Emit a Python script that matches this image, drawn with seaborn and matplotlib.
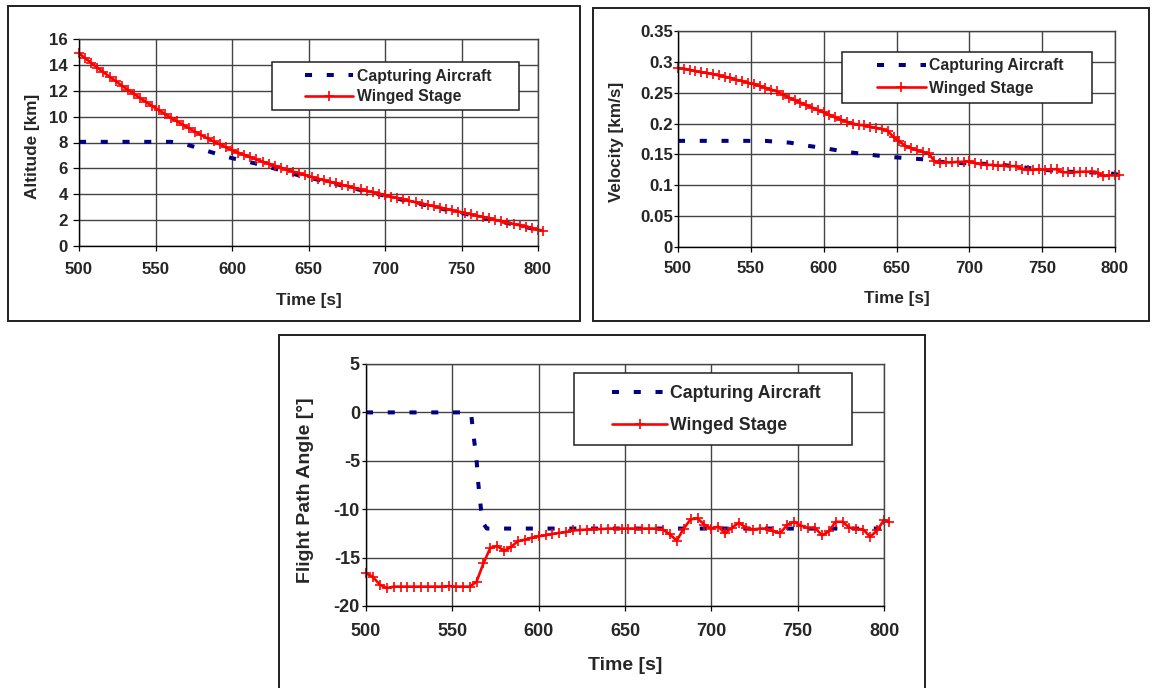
import matplotlib
matplotlib.use("Agg")
import matplotlib.pyplot as plt
from matplotlib.patches import Rectangle
from matplotlib.ticker import FuncFormatter
import seaborn as sns

# ---------------- data ----------------
time_ws = [500, 504, 508, 512, 516, 520, 524, 528, 532, 536, 540, 544, 548, 552, 556, 560,
           564, 568, 572, 576, 580, 584, 588, 592, 596, 600, 604, 608, 612, 616, 620, 624,
           628, 632, 636, 640, 644, 648, 652, 656, 660, 664, 668, 672, 676, 680, 684, 688,
           692, 696, 700, 704, 708, 712, 716, 720, 724, 728, 732, 736, 740, 744, 748, 752,
           756, 760, 764, 768, 772, 776, 780, 784, 788, 792, 796, 800, 803]

alt_ws = [14.90, 14.52, 14.15, 13.79, 13.43, 13.08, 12.74, 12.40, 12.07, 11.75, 11.43, 11.12,
          10.81, 10.51, 10.21, 9.92, 9.64, 9.36, 9.09, 8.83, 8.57, 8.32, 8.08, 7.85, 7.63, 7.41,
          7.22, 7.04, 6.86, 6.69, 6.52, 6.36, 6.20, 6.05, 5.90, 5.75, 5.61, 5.47, 5.34, 5.21,
          5.08, 4.96, 4.84, 4.72, 4.60, 4.49, 4.37, 4.26, 4.15, 4.04, 3.93, 3.82, 3.71, 3.60,
          3.49, 3.38, 3.28, 3.17, 3.07, 2.97, 2.86, 2.76, 2.66, 2.56, 2.45, 2.34, 2.24, 2.13,
          2.02, 1.92, 1.81, 1.70, 1.60, 1.49, 1.38, 1.27, 1.19]

vel_ws = [0.290, 0.289, 0.287, 0.285, 0.283, 0.282, 0.280, 0.278, 0.276, 0.274, 0.271, 0.269,
          0.266, 0.264, 0.261, 0.258, 0.255, 0.252, 0.247, 0.242, 0.238, 0.234, 0.230, 0.226,
          0.222, 0.218, 0.214, 0.210, 0.206, 0.203, 0.200, 0.198, 0.197, 0.195, 0.193, 0.191,
          0.188, 0.178, 0.171, 0.164, 0.160, 0.157, 0.154, 0.152, 0.139, 0.136, 0.137, 0.137,
          0.138, 0.138, 0.139, 0.136, 0.134, 0.133, 0.133, 0.132, 0.132, 0.131, 0.131, 0.127,
          0.125, 0.125, 0.126, 0.125, 0.126, 0.126, 0.121, 0.121, 0.121, 0.122, 0.122, 0.122,
          0.120, 0.115, 0.116, 0.116, 0.116]

fpa_ws = [-16.6, -17.0, -17.8, -18.15, -18.0, -18.0, -18.0, -18.0, -18.0, -18.0, -18.0, -18.0,
          -17.95, -18.0, -18.0, -18.0, -17.5, -15.6, -14.0, -13.8, -14.3, -13.9, -13.3, -13.15,
          -12.95, -12.8, -12.7, -12.55, -12.45, -12.35, -12.2, -12.15, -12.1, -12.05, -12.05,
          -12.0, -12.0, -12.0, -12.0, -12.0, -12.0, -12.0, -12.0, -12.1, -12.6, -13.25, -12.0,
          -11.05, -10.95, -11.6, -12.0, -11.8, -12.5, -11.9, -11.4, -11.9, -12.1, -12.0, -12.0,
          -12.3, -12.45, -11.6, -11.3, -11.7, -11.95, -11.9, -12.7, -12.3, -11.3, -11.3, -11.9,
          -12.0, -12.1, -12.85, -12.2, -11.1, -11.35]

time_ca_alt = [500, 560, 566, 573, 587, 600, 615, 629, 643, 660, 680, 700, 720, 740, 760, 780, 800, 803]
alt_ca = [8.05, 8.05, 7.95, 7.75, 7.23, 6.79, 6.39, 5.95, 5.48, 5.02, 4.44, 3.88, 3.33, 2.80,
          2.30, 1.77, 1.25, 1.17]

time_ca_vel = [500, 560, 565, 577, 586, 601, 616, 630, 645, 660, 675, 680, 694, 708, 723, 737,
               752, 767, 781, 795, 803]
vel_ca = [0.172, 0.172, 0.171, 0.169, 0.165, 0.160, 0.154, 0.150, 0.146, 0.1435, 0.141, 0.138,
          0.136, 0.135, 0.133, 0.129, 0.125, 0.122, 0.121, 0.120, 0.117]

time_ca_fpa = [500, 560, 561, 562, 564, 565, 566.6, 568, 570, 803]
fpa_ca = [0, 0, -0.3, -2.0, -4.8, -7.3, -10.0, -11.5, -12.0, -12.0]

x_ticks = [500, 550, 600, 650, 700, 750, 800]
alt_ticks = [0, 2, 4, 6, 8, 10, 12, 14, 16]
vel_ticks = [0, 0.05, 0.1, 0.15, 0.2, 0.25, 0.3, 0.35]
fpa_ticks = [-20, -15, -10, -5, 0, 5]

label_ca = "Capturing Aircraft"
label_ws = "Winged Stage"

# ---------------- style ----------------
sns.set_theme(style="white")
plt.rcParams["font.family"] = ["Liberation Sans", "DejaVu Sans"]
plt.rcParams["font.weight"] = "bold"
plt.rcParams["axes.labelweight"] = "bold"
plt.rcParams["axes.unicode_minus"] = False

W, H = 1152, 688
fig = plt.figure(figsize=(W / 100, H / 100), dpi=100)
fig.patch.set_facecolor("white")

NAVY = "#000080"
RED = "#ff0000"
GRID = "#444444"


def frac_axes(l, t, r, b):
    return [l / W, 1 - b / H, (r - l) / W, (b - t) / H]


def px_rect(x0, y0, x1, y1, lw=1.4, face="none", z=1):
    return Rectangle((x0 / W, 1 - y1 / H), (x1 - x0) / W, (y1 - y0) / H,
                     transform=fig.transFigure, facecolor=face, edgecolor="#202020",
                     lw=lw, zorder=z)


# panel borders
fig.add_artist(px_rect(8, 6, 580, 321))
fig.add_artist(px_rect(593, 8, 1149, 321))
fig.add_artist(px_rect(279, 335, 925, 720))


def style_axes(ax, yticks, ylim, fs_tick, ylen, ypad, xpad, ylabel, fs_lab, ylab_xy, xlab_y):
    ax.set_xlim(500, 800)
    ax.set_ylim(*ylim)
    ax.set_xticks(x_ticks)
    ax.set_yticks(yticks)
    ax.yaxis.set_major_formatter(FuncFormatter(lambda v, p: f"{v:g}"))
    ax.grid(True, color=GRID, lw=1.0)
    ax.set_axisbelow(True)
    for s in ["top", "right"]:
        ax.spines[s].set_color(GRID)
        ax.spines[s].set_linewidth(1.0)
    for s in ["left", "bottom"]:
        ax.spines[s].set_color("black")
        ax.spines[s].set_linewidth(1.0)
    ax.tick_params(axis="y", direction="out", length=ylen, width=0.9, color="black",
                   pad=ypad, labelsize=fs_tick, left=True)
    ax.tick_params(axis="x", direction="out", length=3.6, width=0.9, color="black",
                   pad=xpad, labelsize=fs_tick, bottom=True)
    for lab in ax.get_xticklabels() + ax.get_yticklabels():
        lab.set_fontweight("bold")
    ax.set_ylabel(ylabel, fontsize=fs_lab, fontweight="bold", va="center")
    ax.set_xlabel("Time [s]", fontsize=fs_lab, fontweight="bold", va="center")
    ax.yaxis.set_label_coords(*ylab_xy)
    ax.xaxis.set_label_coords(0.5, xlab_y)


def draw(ax, tca, yca, tws, yws):
    sns.lineplot(x=tca, y=yca, ax=ax, color=NAVY, lw=2.9, linestyle=(0, (1.75, 3.65)),
                 label=label_ca, estimator=None, sort=False, legend=False, clip_on=False)
    sns.lineplot(x=tws, y=yws, ax=ax, color=RED, lw=1.9, marker="+", markersize=7,
                 markeredgewidth=1.2, markeredgecolor=RED, label=label_ws, estimator=None,
                 sort=False, legend=False, clip_on=False)


def add_legend(ax, frame, x_start, y_center, fs, hl, htp, ls):
    fig.add_artist(px_rect(*frame, lw=1.1, face="white", z=4))
    handles = ax.get_lines()[-2:]
    fig.legend(handles, [label_ca, label_ws], loc="center left",
               bbox_to_anchor=(x_start / W, 1 - y_center / H), frameon=False,
               borderpad=0, borderaxespad=0, handlelength=hl, handletextpad=htp,
               labelspacing=ls, numpoints=1, prop={"size": fs, "weight": "bold"})


# ---- Altitude ----
ax1 = fig.add_axes(frac_axes(79, 39, 538, 246))
draw(ax1, time_ca_alt, alt_ca, time_ws, alt_ws)
style_axes(ax1, alt_ticks, (0, 16), 12.2, 4.0, 4.0, 7.6, "Altitude [km]", 12.3,
           ((33 - 79) / 459, 0.483), -(300 - 246) / 207)
add_legend(ax1, (272, 62, 519, 110), 305, 86.5, 11.3, 3.06, 0.25, 0.32)

# ---- Velocity ----
ax2 = fig.add_axes(frac_axes(678, 31, 1115, 247))
draw(ax2, time_ca_vel, vel_ca, time_ws, vel_ws)
style_axes(ax2, vel_ticks, (0, 0.35), 12.2, 2.9, 0.8, 6.8, "Velocity [km/s]", 12.3,
           ((617 - 678) / 437, 0.4875), -(298 - 247) / 216)
add_legend(ax2, (842, 52, 1092, 103), 877, 77, 11.3, 3.1, 0.21, 0.5)

# ---- Flight path angle ----
ax3 = fig.add_axes(frac_axes(366, 364, 884, 606))
draw(ax3, time_ca_fpa, fpa_ca, time_ws, fpa_ws)
style_axes(ax3, fpa_ticks, (-20, 5), 13, 2.9, 1.5, 8.6, "Flight Path Angle [°]", 14,
           ((305 - 366) / 518, 0.479), -(665.5 - 606) / 242)
add_legend(ax3, (574, 373, 852, 445), 612, 409.5, 12.7, 3.12, 0.19, 0.85)

fig.savefig("out.png", dpi=100, facecolor="white")
